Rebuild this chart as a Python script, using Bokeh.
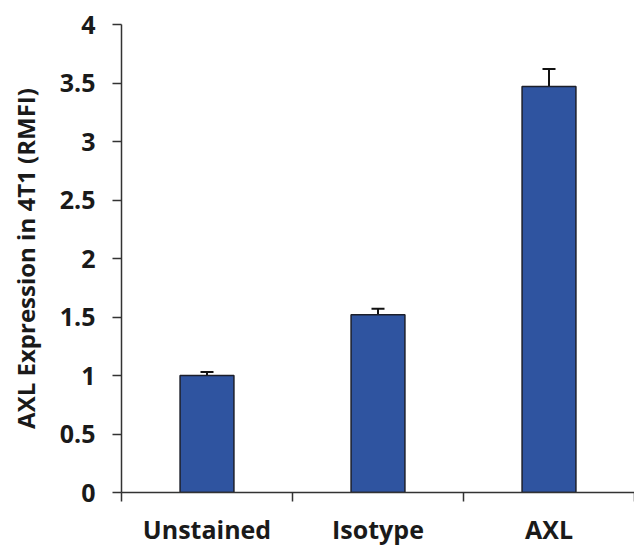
from bokeh.plotting import figure
from bokeh.models import Range1d, FixedTicker, NumeralTickFormatter, ColumnDataSource, Whisker, TeeHead
from bokeh.embed import file_html
from bokeh.resources import INLINE

categories = ["Unstained", "Isotype", "AXL"]
values = [1.0, 1.52, 3.47]
errors = [0.03, 0.05, 0.15]
y_ticks = [0, 0.5, 1, 1.5, 2, 2.5, 3, 3.5, 4]

xpos = [i + 0.5 for i in range(len(categories))]
src = ColumnDataSource(dict(x=xpos, top=values,
                            upper=[v + e for v, e in zip(values, errors)]))

p = figure(width=634, height=548, output_backend="svg", toolbar_location=None,
           x_range=Range1d(0, 3.0), y_range=Range1d(0, 4.0),
           min_border_left=121, min_border_right=0, min_border_top=24, min_border_bottom=50)
p.outline_line_color = None
p.xgrid.visible = False
p.ygrid.visible = False

p.vbar(x="x", top="top", width=0.315, bottom=0, source=src,
       fill_color="#2F54A0", line_color="#1c1f2b", line_width=1.5)

w = Whisker(base="x", upper="upper", lower="top", source=src,
            line_color="#111111", line_width=2,
            upper_head=TeeHead(size=13, line_color="#111111", line_width=2),
            lower_head=None)
p.add_layout(w)

font = "Open Sans"
p.xaxis.ticker = FixedTicker(ticks=xpos, minor_ticks=[0, 1, 2, 3])
p.xaxis.major_label_overrides = {x: c for x, c in zip(xpos, categories)}
p.xaxis.major_tick_line_color = None
p.xaxis.minor_tick_out = 9
p.xaxis.minor_tick_in = 0
p.xaxis.minor_tick_line_color = "#333333"
p.xaxis.minor_tick_line_width = 1.5
p.xaxis.axis_line_color = "#333333"
p.xaxis.axis_line_width = 1.5
p.xaxis.major_label_text_font = font
p.xaxis.major_label_text_font_style = "bold"
p.xaxis.major_label_text_font_size = "25px"
p.xaxis.major_label_text_color = "#1a1a1a"
p.xaxis.major_label_standoff = 10

p.yaxis.ticker = FixedTicker(ticks=y_ticks, minor_ticks=[])
p.yaxis.formatter = NumeralTickFormatter(format="0.[0]")
p.yaxis.major_tick_out = 9
p.yaxis.major_tick_in = 0
p.yaxis.major_tick_line_color = "#333333"
p.yaxis.major_tick_line_width = 1.5
p.yaxis.axis_line_color = "#333333"
p.yaxis.axis_line_width = 1.5
p.yaxis.major_label_text_font = font
p.yaxis.major_label_text_font_style = "bold"
p.yaxis.major_label_text_font_size = "25px"
p.yaxis.major_label_text_color = "#1a1a1a"
p.yaxis.major_label_standoff = 17
p.yaxis.axis_label = "AXL Expression in 4T1 (RMFI)"
p.yaxis.axis_label_text_font = font
p.yaxis.axis_label_text_font_style = "bold"
p.yaxis.axis_label_text_font_size = "24px"
p.yaxis.axis_label_text_color = "#1a1a1a"
p.yaxis.axis_label_standoff = 15

open("out.html", "w").write(file_html(p, INLINE))
